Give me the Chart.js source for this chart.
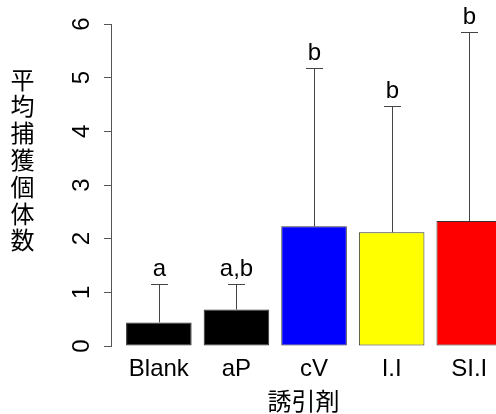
<!DOCTYPE html>
<html>
<head>
<meta charset="utf-8">
<script src="https://cdn.jsdelivr.net/npm/chart.js@4"></script>
<style>
  html, body { margin: 0; padding: 0; background: #fff; overflow: hidden; }
  #wrap { width: 496px; height: 414px; }
</style>
</head>
<body>
<div id="wrap"><canvas id="c" width="496" height="414"></canvas></div>
<script>
// Mean catch per lure with its error and significance letters
const categories = ['Blank', 'aP', 'cV', 'I.I', 'SI.I'];
const meanCatch = [0.44, 0.68, 2.23, 2.12, 2.33];
const errorSize = [0.72, 0.48, 2.95, 2.36, 3.52];
const groupLetters = ['a', 'a,b', 'b', 'b', 'b'];
const barColors = ['#000000', '#000000', '#0000ff', '#ffff00', '#ff0000'];
const yTicks = [0, 1, 2, 3, 4, 5, 6];
const yTitle = '平均捕獲個体数';
const xTitle = '誘引剤';

const latinFont = '"Liberation Sans", Arial, Helvetica, sans-serif';
const cjkFont = '"Noto Sans CJK JP", "Noto Sans CJK SC", sans-serif';

// Error whiskers with caps, and the group letters above them
const errorBars = {
  id: 'errorBars',
  afterDatasetsDraw(chart) {
    const { ctx, scales: { x, y } } = chart;
    ctx.save();
    ctx.strokeStyle = '#444';
    ctx.lineWidth = 1;
    ctx.fillStyle = '#000';
    ctx.font = '24px ' + latinFont;
    ctx.textAlign = 'center';
    ctx.textBaseline = 'alphabetic';
    categories.forEach((c, i) => {
      const px = Math.round(x.getPixelForValue(i)) + 0.5;
      const yBar = y.getPixelForValue(meanCatch[i]);
      const yUp = Math.round(y.getPixelForValue(meanCatch[i] + errorSize[i])) + 0.5;
      ctx.beginPath();
      ctx.moveTo(px, yBar);
      ctx.lineTo(px, yUp);
      ctx.moveTo(px - 8.5, yUp);
      ctx.lineTo(px + 8.5, yUp);
      ctx.stroke();
      ctx.fillText(groupLetters[i], px, yUp - 8.5);
    });
    ctx.restore();
  }
};

// Vertical (stacked) y-axis title
const stackedYTitle = {
  id: 'stackedYTitle',
  afterDraw(chart) {
    const { ctx } = chart;
    ctx.save();
    ctx.fillStyle = '#000';
    ctx.font = '24px ' + cjkFont;
    ctx.textAlign = 'center';
    ctx.textBaseline = 'middle';
    Array.from(yTitle).forEach((ch, i) => {
      ctx.fillText(ch, 22.5, 79.5 + i * 26.8);
    });
    ctx.restore();
  }
};

new Chart(document.getElementById('c'), {
  type: 'bar',
  data: {
    datasets: [{
      data: categories.map((c, i) => ({ x: i, y: meanCatch[i] })),
      backgroundColor: barColors,
      borderColor: '#333',
      borderWidth: 1,
      borderSkipped: false,
      categoryPercentage: 1,
      barPercentage: 0.845
    }]
  },
  options: {
    responsive: false,
    animation: false,
    devicePixelRatio: 1,
    layout: { padding: { left: 61, top: 24, right: 0, bottom: 1 } },
    plugins: { legend: { display: false }, tooltip: { enabled: false } },
    scales: {
      x: {
        type: 'linear',
        bounds: 'data',
        offset: false,
        min: -0.6166,
        max: 4.3447,
        afterBuildTicks: s => { s.ticks = categories.map((c, i) => ({ value: i })); },
        afterFit: s => { s.height = 67; s.paddingLeft = 0; s.paddingRight = 0; },
        ticks: {
          callback: v => categories[v],
          autoSkip: false,
          maxRotation: 0,
          padding: 9,
          color: '#000',
          font: { family: latinFont, size: 24, lineHeight: 1.2 }
        },
        grid: { display: false, drawTicks: false, offset: false },
        border: { display: false },
        title: {
          display: true,
          text: xTitle,
          color: '#000',
          padding: { top: 5.2, bottom: 0 },
          font: { family: cjkFont, size: 24, lineHeight: '24px' }
        }
      },
      y: {
        min: 0,
        max: 6,
        afterBuildTicks: s => { s.ticks = yTicks.map(v => ({ value: v })); },
        afterFit: s => { s.width = 50; s.paddingTop = 0; s.paddingBottom = 0; },
        ticks: {
          minRotation: 90,
          maxRotation: 90,
          crossAlign: 'center',
          padding: 15,
          color: '#000',
          font: { family: latinFont, size: 24, lineHeight: 1.2 }
        },
        grid: { drawOnChartArea: false, drawTicks: true, tickLength: 7, color: '#555' },
        border: { display: true, color: '#555', width: 1 }
      }
    }
  },
  plugins: [errorBars, stackedYTitle]
});
</script>
</body>
</html>
